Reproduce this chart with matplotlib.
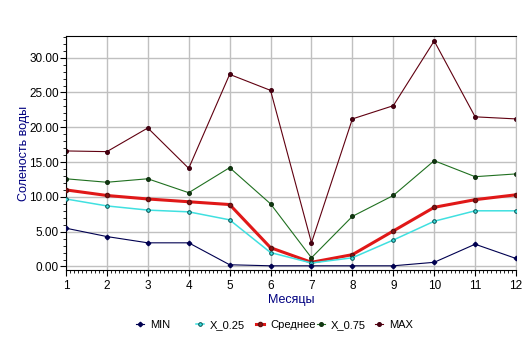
import matplotlib
matplotlib.use("Agg")
import matplotlib.pyplot as plt
from matplotlib.ticker import MultipleLocator, FormatStrFormatter

plt.rcParams['font.family'] = ['Liberation Sans', 'DejaVu Sans']

months = [1, 2, 3, 4, 5, 6, 7, 8, 9, 10, 11, 12]
s_min = [5.5, 4.3, 3.4, 3.4, 0.25, 0.1, 0.1, 0.1, 0.1, 0.6, 3.2, 1.15]
s_q25 = [9.7, 8.7, 8.1, 7.85, 6.7, 2.0, 0.5, 1.25, 3.8, 6.5, 8.0, 8.0]
s_mean = [11.0, 10.2, 9.7, 9.3, 8.9, 2.7, 0.6, 1.7, 5.1, 8.5, 9.6, 10.3]
s_q75 = [12.6, 12.1, 12.6, 10.6, 14.2, 9.0, 1.25, 7.2, 10.2, 15.2, 12.9, 13.3]
s_max = [16.6, 16.5, 19.9, 14.1, 27.6, 25.3, 3.4, 21.2, 23.1, 32.4, 21.5, 21.2]
labels = ['MIN', 'X_0.25', 'Среднее', 'X_0.75', 'MAX']

fig = plt.figure(figsize=(5.32, 3.47), dpi=100)
ax = fig.add_axes([0.124, 0.222, 0.846, 0.674])

h = []
h += ax.plot(months, s_min, color='#000050', lw=0.8, marker='D', ms=2.3, mfc='#000050', mec='#000050', label=labels[0], zorder=5)
h += ax.plot(months, s_q25, color='#40E0E0', lw=1.1, marker='o', ms=2.6, mfc='#40E0E0', mec='#005050', mew=0.7, label=labels[1], zorder=4)
h += ax.plot(months, s_mean, color='#E01818', lw=2.2, marker='o', ms=3, mfc='#8B1010', mec='#601010', label=labels[2], zorder=3)
h += ax.plot(months, s_q75, color='#207020', lw=0.8, marker='o', ms=2.6, mfc='#104010', mec='#103010', label=labels[3], zorder=2)
h += ax.plot(months, s_max, color='#600010', lw=0.8, marker='o', ms=2.6, mfc='#500010', mec='#400010', label=labels[4], zorder=2)

ax.set_xlim(1, 12)
ax.set_ylim(-0.5, 33.1)
ax.xaxis.set_major_locator(MultipleLocator(1))
ax.xaxis.set_minor_locator(MultipleLocator(0.1))
ax.yaxis.set_major_locator(MultipleLocator(5))
ax.yaxis.set_minor_locator(MultipleLocator(1))
ax.yaxis.set_major_formatter(FormatStrFormatter('%.2f'))
ax.grid(True, which='major', color='#C0C0C0', lw=1)
ax.set_axisbelow(True)
ax.tick_params(axis='both', which='major', labelsize=8.5, length=4, color='black')
ax.tick_params(axis='both', which='minor', length=2.5, color='black')
ax.tick_params(axis='x', pad=3)
ax.tick_params(axis='y', pad=1)
for side in ['left', 'bottom', 'top']:
    ax.spines[side].set_color('black')
ax.spines['right'].set_color('#C0C0C0')

ax.set_xlabel('Месяцы', fontsize=9, color='#000080', labelpad=2)
ax.set_ylabel('Соленость воды', fontsize=9, color='#000080')
ax.yaxis.set_label_coords((30 - 66) / 450, 0.5)

text_x = [150, 210, 270, 331, 389]
for handle, lab, tx in zip(h, labels, text_x):
    fig.legend(handles=[handle], labels=[lab], loc='center left',
               bbox_to_anchor=((tx - 14.4) / 532, 0.063), frameon=False,
               fontsize=8, handlelength=0.8, handletextpad=0.5,
               borderpad=0, borderaxespad=0)

fig.savefig('out.png', dpi=100)
